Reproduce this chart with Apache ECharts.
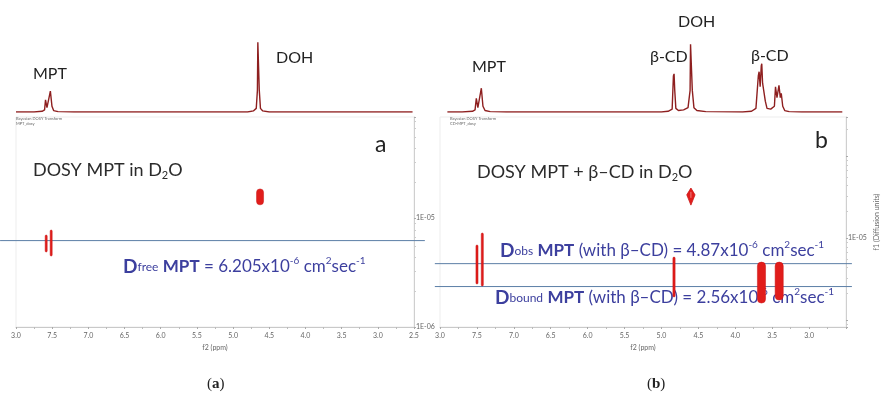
<!DOCTYPE html>
<html>
<head>
<meta charset="utf-8">
<script src="https://cdn.jsdelivr.net/npm/echarts@6/dist/echarts.min.js"></script>
<style>
  html, body { margin: 0; padding: 0; background: #fff; }
  #chart { width: 882px; height: 394px; }
</style>
</head>
<body>
<div id="chart"></div>
<script>
// ---- 1H spectra: [chemical shift (ppm), relative intensity] ----
const spectrumA = [
  [8.0, 0.0], [7.75, 0.0], [7.64, 0.01], [7.605, 0.03], [7.592, 0.17], [7.583, 0.19], [7.572, 0.06],
  [7.545, 0.05], [7.525, 0.29], [7.514, 0.31], [7.503, 0.08], [7.48, 0.02], [7.42, 0.005], [7.2, 0.0],
  [4.8, 0.0], [4.72, 0.015], [4.68, 0.05], [4.664, 0.3], [4.658, 0.97], [4.645, 0.97], [4.638, 0.3],
  [4.622, 0.05], [4.59, 0.015], [4.5, 0.0], [2.52, 0.0]
];
const spectrumB = [
  [7.9, 0.0], [7.7, 0.0], [7.56, 0.01], [7.525, 0.03], [7.508, 0.19], [7.499, 0.21], [7.487, 0.06],
  [7.46, 0.06], [7.44, 0.33], [7.431, 0.35], [7.418, 0.08], [7.39, 0.02], [7.32, 0.005], [7.1, 0.0],
  [5.0, 0.0], [4.91, 0.01], [4.855, 0.04], [4.838, 0.5], [4.829, 0.53], [4.82, 0.3], [4.805, 0.05],
  [4.77, 0.02], [4.70, 0.03], [4.64, 0.06], [4.612, 0.3], [4.606, 0.94], [4.588, 0.94], [4.582, 0.3],
  [4.56, 0.06], [4.52, 0.02], [4.4, 0.005],
  [3.9, 0.0], [3.78, 0.01], [3.72, 0.05], [3.688, 0.5], [3.677, 0.56], [3.663, 0.35], [3.648, 0.64],
  [3.641, 0.67], [3.63, 0.4], [3.615, 0.3], [3.603, 0.31], [3.593, 0.15], [3.57, 0.05], [3.52, 0.04],
  [3.47, 0.08], [3.455, 0.35], [3.447, 0.375], [3.435, 0.2], [3.42, 0.18], [3.408, 0.37], [3.402, 0.375],
  [3.39, 0.2], [3.377, 0.26], [3.37, 0.28], [3.357, 0.08], [3.33, 0.02], [3.27, 0.005], [3.1, 0.0], [2.55, 0.0]
];

// ---- DOSY cross-peaks: [ppm start, ppm end, D upper (cm2/s), D lower (cm2/s)] ----
const dosySpotsA = [
  [7.597, 7.569, 6.98e-6, 4.88e-6],   // MPT
  [7.528, 7.500, 7.76e-6, 4.48e-6],   // MPT
  [4.676, 4.579, 1.85e-5, 1.32e-5]    // DOH
];
const dosySpotsB = [
  [7.513, 7.485, 8.22e-6, 2.75e-6],   // MPT
  [7.441, 7.413, 1.15e-5, 2.60e-6],   // MPT
  [4.845, 4.815, 5.86e-6, 1.91e-6],   // beta-CD H1
  [3.700, 3.590, 5.09e-6, 1.61e-6],   // beta-CD
  [3.460, 3.350, 5.09e-6, 1.75e-6]    // beta-CD
];
const dosyDiamondsB = [
  [4.657, 4.545, 4.07e-5, 2.52e-5]    // DOH
];

// ---- diffusion coefficients (cm2/s) ----
const dFree = 6.205e-6;
const dObs = 4.87e-6;
const dBound = 2.56e-6;

// ---- axis ticks ----
const ppmTicks = [8.0, 7.5, 7.0, 6.5, 6.0, 5.5, 5.0, 4.5, 4.0, 3.5, 3.0, 2.5];
const ppmTickLabelsA = ['3.0', '7.5', '7.0', '6.5', '6.0', '5.5', '5.0', '4.5', '4.0', '3.5', '3.0', '2.5'];
const ppmTickLabelsB = ['3.0', '7.5', '7.0', '6.5', '6.0', '5.5', '5.0', '4.5', '4.0', '3.5', '3.0', ''];
const diffTickExponents = [-5, -6];
const diffTickLabelsA = ['1E-05', '1E-06'];
const diffTickLabelsB = ['1E-05', ''];

const FONT = 'Lato, "Open Sans", sans-serif';
const RED = '#e11d1b';
const LINE_BLUE = '#5b7ea6';
const TEXT_BLUE = '#3c3f9e';

function ppmFormatter(labels) {
  return function (v) {
    const i = ppmTicks.findIndex(t => Math.abs(t - v) < 1e-6);
    return i >= 0 ? labels[i] : '';
  };
}
function diffFormatter(labels) {
  return function (v) {
    const e = Math.log10(v);
    if (Math.abs(e - Math.round(e)) > 1e-6) return '';
    const i = diffTickExponents.indexOf(Math.round(e));
    return i >= 0 ? labels[i] : '';
  };
}

function spectrumX(gridIndex) {
  return { gridIndex, type: 'value', min: 2.5, max: 8.0, inverse: true, show: false };
}
function dosyX(gridIndex, labels) {
  return {
    gridIndex, type: 'value', min: 2.5, max: 8.0, interval: 0.5, inverse: true,
    name: 'f2 (ppm)', nameLocation: 'middle', nameGap: 15,
    nameTextStyle: { fontSize: 7, color: '#666', fontFamily: FONT },
    axisLine: { lineStyle: { color: '#c9c9c9', width: 1 } },
    axisTick: { show: true, length: 2, lineStyle: { color: '#aaa' } },
    minorTick: { show: true, splitNumber: 2, length: 2, lineStyle: { color: '#bbb' } },
    splitLine: { show: false },
    axisLabel: { fontSize: 7, color: '#666', margin: 5, fontFamily: FONT, formatter: ppmFormatter(labels) }
  };
}
function dosyY(gridIndex, min, max, labels, name) {
  return {
    gridIndex, type: 'log', logBase: 10, min, max, position: 'right',
    name: name || '', nameLocation: 'middle', nameRotate: 90, nameGap: 27,
    nameTextStyle: { fontSize: 7, color: '#666', fontFamily: FONT },
    axisLine: { show: true, lineStyle: { color: '#cfcfcf', width: 1 } },
    axisTick: { show: true, length: 2, lineStyle: { color: '#aaa' } },
    minorTick: { show: true, splitNumber: 8, length: 2, lineStyle: { color: '#ccc' } },
    splitLine: { show: false },
    axisLabel: { fontSize: 7, color: '#666', margin: 2, fontFamily: FONT, formatter: diffFormatter(labels) }
  };
}

function spotItem(params, api) {
  const a = api.coord([api.value(0), api.value(2)]);
  const b = api.coord([api.value(1), api.value(3)]);
  const x = Math.min(a[0], b[0]), w = Math.abs(b[0] - a[0]);
  const y = Math.min(a[1], b[1]), h = Math.abs(b[1] - a[1]);
  return {
    type: 'rect',
    shape: { x, y, width: w, height: h, r: Math.min(w / 2, 4) },
    style: { fill: RED, stroke: '#c81414', lineWidth: 0.5 }
  };
}
function diamondItem(params, api) {
  const a = api.coord([api.value(0), api.value(2)]);
  const b = api.coord([api.value(1), api.value(3)]);
  const l = Math.min(a[0], b[0]), r = Math.max(a[0], b[0]);
  const top = Math.min(a[1], b[1]), bot = Math.max(a[1], b[1]);
  const cx = (l + r) / 2, mid = top + (bot - top) * 0.4;
  return {
    type: 'group',
    children: [
      { type: 'polygon', shape: { points: [[cx, top], [r, mid], [cx, bot], [l, mid]] },
        style: { fill: RED, stroke: '#cc1515', lineWidth: 0.8 } },
      { type: 'line', shape: { x1: cx, y1: mid - 3, x2: cx, y2: mid + 3 },
        style: { stroke: 'rgba(255,255,255,0.75)', lineWidth: 0.6 } }
    ]
  };
}
// horizontal diffusion level drawn across (and slightly past) the panel
function levelLine(ppmFrom, ppmTo) {
  return function (params, api) {
    const p0 = api.coord([ppmFrom, api.value(0)]);
    const p1 = api.coord([ppmTo, api.value(0)]);
    return {
      type: 'line',
      shape: { x1: p0[0], y1: p0[1], x2: p1[0], y2: p1[1] },
      style: { stroke: LINE_BLUE, lineWidth: 1 }
    };
  };
}

function label(text, x, y, size, color, extra) {
  return {
    type: 'text', x, y, silent: true,
    style: Object.assign({ text, fontSize: size, fontFamily: FONT, fill: color || '#222',
      align: 'left', verticalAlign: 'middle' }, (extra || {}))
  };
}

const valueRich = {
  n: { fontSize: 17, lineHeight: 22, fill: TEXT_BLUE, fontFamily: FONT },
  bD: { fontSize: 19, lineHeight: 22, fontWeight: 'bold', fill: TEXT_BLUE, fontFamily: FONT },
  b: { fontSize: 17, lineHeight: 22, fontWeight: 'bold', fill: TEXT_BLUE, fontFamily: FONT },
  s: { fontSize: 12, lineHeight: 22, verticalAlign: 'middle', fill: TEXT_BLUE, fontFamily: FONT },
  sup: { fontSize: 10, lineHeight: 10, verticalAlign: 'top', fill: TEXT_BLUE, fontFamily: FONT }
};
const titleRich = {
  n: { fontSize: 18, lineHeight: 22, fill: '#2b2b2b', fontFamily: FONT },
  sub: { fontSize: 11, lineHeight: 11, verticalAlign: 'bottom', fill: '#2b2b2b', fontFamily: FONT }
};
const captionRich = {
  b: { fontSize: 15, fontWeight: 'bold', fontFamily: '"Liberation Serif", serif', fill: '#222' }
};

const chart = echarts.init(document.getElementById('chart'), null, { renderer: 'canvas' });

chart.setOption({
  backgroundColor: '#ffffff',
  animation: false,
  grid: [
    { left: 16, top: 40, width: 398, height: 72 },
    { left: 16, top: 117, width: 398, height: 210, show: true, borderColor: '#ededed', borderWidth: 1 },
    { left: 440, top: 40, width: 406, height: 72 },
    { left: 440, top: 117, width: 406, height: 210, show: true, borderColor: '#ededed', borderWidth: 1 }
  ],
  xAxis: [
    spectrumX(0),
    dosyX(1, ppmTickLabelsA),
    spectrumX(2),
    dosyX(3, ppmTickLabelsB)
  ],
  yAxis: [
    { gridIndex: 0, type: 'value', min: 0, max: 1, show: false },
    dosyY(1, 1e-6, 8.45e-5, diffTickLabelsA),
    { gridIndex: 2, type: 'value', min: 0, max: 1, show: false },
    dosyY(3, Math.pow(10, -6.085), Math.pow(10, -3.524), diffTickLabelsB, 'f1 (Diffusion units)')
  ],
  series: [
    { type: 'line', xAxisIndex: 0, yAxisIndex: 0, data: spectrumA, showSymbol: false,
      lineStyle: { color: '#8e1f1f', width: 1.4 }, silent: true },
    { type: 'line', xAxisIndex: 2, yAxisIndex: 2, data: spectrumB, showSymbol: false,
      lineStyle: { color: '#8e1f1f', width: 1.4 }, silent: true },

    { type: 'custom', xAxisIndex: 1, yAxisIndex: 1, data: [[dFree]], encode: { y: 0 },
      renderItem: levelLine(8.22, 2.35), silent: true, z: 1 },
    { type: 'custom', xAxisIndex: 3, yAxisIndex: 3, data: [[dObs], [dBound]], encode: { y: 0 },
      renderItem: levelLine(8.07, 2.42), silent: true, z: 1 },

    { type: 'custom', xAxisIndex: 1, yAxisIndex: 1, data: dosySpotsA, encode: { x: [0, 1], y: [2, 3] },
      renderItem: spotItem, silent: true, z: 3 },
    { type: 'custom', xAxisIndex: 3, yAxisIndex: 3, data: dosySpotsB, encode: { x: [0, 1], y: [2, 3] },
      renderItem: spotItem, silent: true, z: 3 },
    { type: 'custom', xAxisIndex: 3, yAxisIndex: 3, data: dosyDiamondsB, encode: { x: [0, 1], y: [2, 3] },
      renderItem: diamondItem, silent: true, z: 3 }
  ],
  graphic: [
    // peak labels on the 1H traces
    label('MPT', 33, 74, 16),
    label('DOH', 276, 58, 16),
    label('MPT', 472, 67, 16),
    label('β-CD', 650, 57, 16),
    label('DOH', 678, 22, 16),
    label('β-CD', 751, 56, 16),
    // processing captions
    label('Bayesian DOSY Transform', 16, 119, 4, '#666'),
    label('MPT_dosy', 16, 123.5, 4, '#666'),
    label('Bayesian DOSY Transform', 450, 119, 4, '#666'),
    label('CD-MPT_dosy', 450, 123.5, 4, '#666'),
    // panel letters
    label('a', 375, 145, 23, '#222'),
    label('b', 815, 141, 23, '#222'),
    // DOSY titles
    label('{n|DOSY MPT in D}{sub|2}{n|O}', 33, 170, 18, '#2b2b2b', { rich: titleRich }),
    label('{n|DOSY MPT + β–CD in D}{sub|2}{n|O}', 477, 172, 18, '#2b2b2b', { rich: titleRich }),
    // diffusion values
    label('{bD|D}{s|free} {b|MPT}{n| = 6.205x10}{sup|-6}{n| cm}{sup|2}{n|sec}{sup|-1}',
      123, 267, 17, TEXT_BLUE, { rich: valueRich }),
    label('{bD|D}{s|obs} {b|MPT}{n| (with β–CD) = 4.87x10}{sup|-6}{n| cm}{sup|2}{n|sec}{sup|-1}',
      500, 251, 17, TEXT_BLUE, { rich: valueRich }),
    label('{bD|D}{s|bound} {b|MPT}{n| (with β–CD) = 2.56x10}{sup|-6}{n| cm}{sup|2}{n|sec}{sup|-1}',
      495, 298, 17, TEXT_BLUE, { rich: valueRich }),
    // sub-figure captions
    label('({b|a})', 207, 384, 15, '#222', { fontFamily: '"Liberation Serif", serif', rich: captionRich }),
    label('({b|b})', 647, 384, 15, '#222', { fontFamily: '"Liberation Serif", serif', rich: captionRich })
  ]
});
</script>
</body>
</html>
